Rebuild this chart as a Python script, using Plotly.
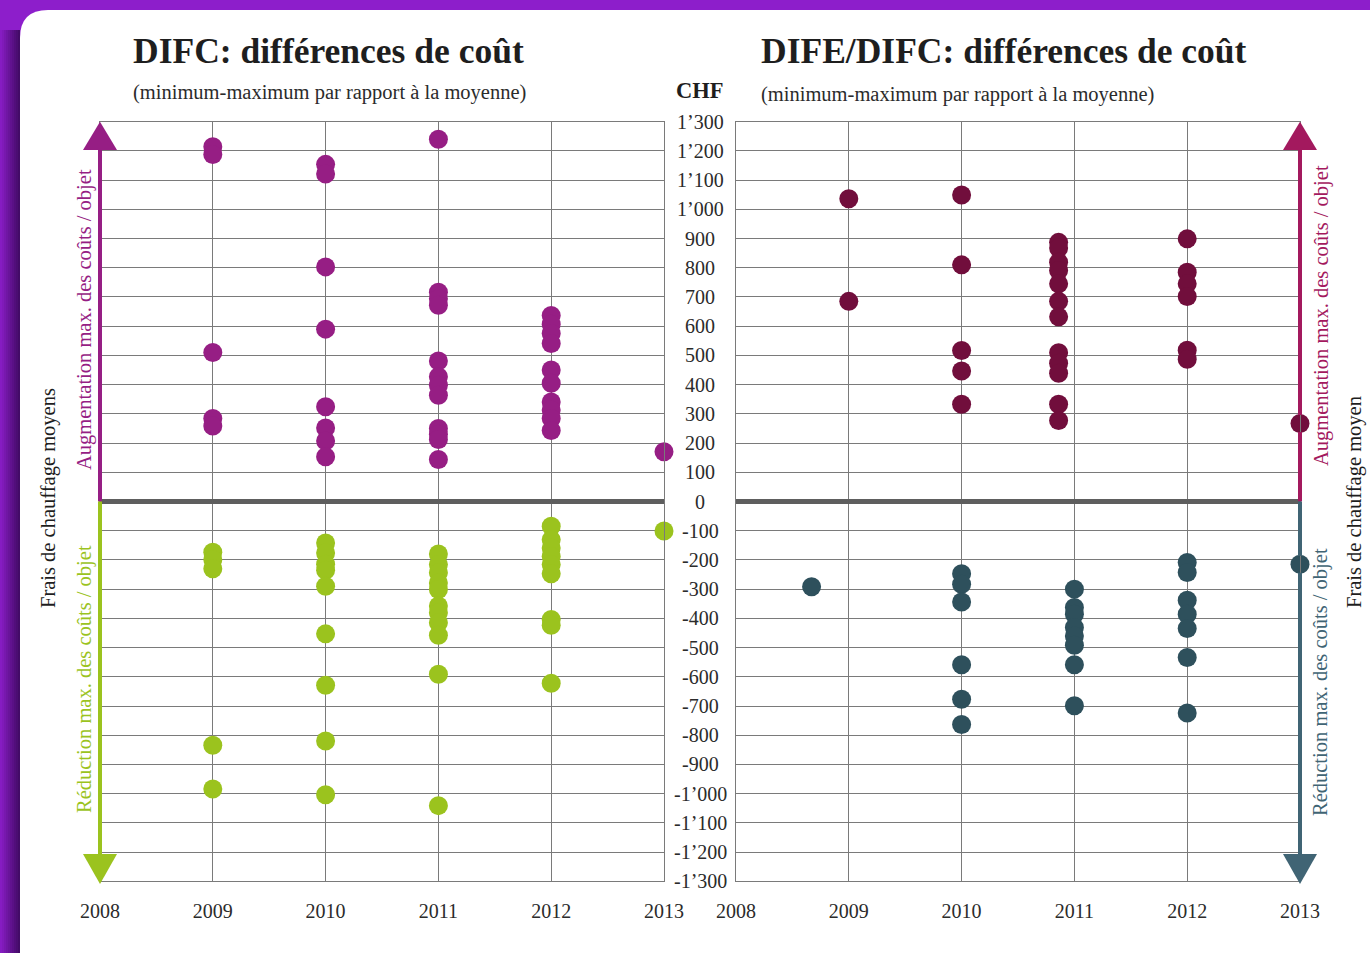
import plotly.graph_objects as go

W, H = 1370, 953

# ---------------- data ----------------
years = [2008, 2009, 2010, 2011, 2012, 2013]
year_labels = ["2008", "2009", "2010", "2011", "2012", "2013"]

chf_ticks = [1300, 1200, 1100, 1000, 900, 800, 700, 600, 500, 400, 300, 200, 100, 0,
             -100, -200, -300, -400, -500, -600, -700, -800, -900, -1000, -1100, -1200, -1300]
chf_labels = ["1’300", "1’200", "1’100", "1’000", "900", "800", "700", "600", "500", "400",
              "300", "200", "100", "0", "-100", "-200", "-300", "-400", "-500", "-600", "-700",
              "-800", "-900", "-1’000", "-1’100", "-1’200", "-1’300"]

# DIFC – increases (purple)
difc_up_x = [2009, 2010, 2011, 2012, 2013]
difc_up = [[1214, 1188, 510, 284, 258],
           [1154, 1121, 803, 590, 324, 252, 207, 153],
           [1240, 716, 694, 672, 481, 427, 398, 364, 250, 230, 212, 144],
           [637, 607, 575, 541, 450, 405, 341, 313, 284, 243],
           [170]]
# DIFC – reductions (green)
difc_down_x = [2009, 2010, 2011, 2012, 2013]
difc_down = [[-174, -199, -230, -834, -984],
             [-142, -176, -215, -235, -290, -453, -629, -820, -1004],
             [-180, -216, -244, -279, -301, -358, -381, -415, -458, -591, -1041],
             [-85, -131, -159, -188, -216, -247, -404, -424, -622],
             [-101]]
# DIFE/DIFC – increases (maroon)
dife_up_x = [2009, 2010, 2010.86, 2012, 2013]
dife_up = [[1036, 685],
           [1049, 810, 517, 447, 333],
           [887, 868, 819, 791, 745, 685, 632, 509, 473, 439, 333, 277],
           [899, 785, 745, 702, 518, 487],
           [267]]
# DIFE/DIFC – reductions (teal)
dife_down_x = [2008.67, 2010, 2011, 2012, 2013]
dife_down = [[-292],
             [-247, -283, -344, -559, -677, -763],
             [-300, -363, -386, -431, -460, -492, -559, -699],
             [-209, -243, -338, -386, -435, -534, -724],
             [-215]]

# ---------------- styles ----------------
FONT = "Liberation Serif"
PURPLE = "#961E84"
GREEN = "#9BC31E"
MAROON = "#710E3C"
TEAL = "#2E505C"
MAROON_ARROW = "#A3195E"
TEAL_ARROW = "#406474"
GRID = "#7a7a7a"
TXT = "#2b2b2b"

Y_TOP_PX, Y_BOT_PX = 121.7, 881.3


def px(x):
    return x / W


def py(y):
    return 1 - y / H


def flat(xs, groups):
    X, Y = [], []
    for x, g in zip(xs, groups):
        for v in g:
            X.append(x)
            Y.append(v)
    return X, Y


fig = go.Figure()

for xs, groups, col, ax in [
    (difc_up_x, difc_up, PURPLE, ("x", "y")),
    (difc_down_x, difc_down, GREEN, ("x", "y")),
    (dife_up_x, dife_up, MAROON, ("x2", "y2")),
    (dife_down_x, dife_down, TEAL, ("x2", "y2")),
]:
    X, Y = flat(xs, groups)
    fig.add_trace(go.Scatter(x=X, y=Y, mode="markers", xaxis=ax[0], yaxis=ax[1],
                             marker=dict(size=19, color=col, line=dict(width=0)),
                             cliponaxis=False, hoverinfo="skip"))

ydom = [py(Y_BOT_PX), py(Y_TOP_PX)]
axis_common = dict(range=[2008, 2013], tickvals=years, ticktext=year_labels,
                   showgrid=True, gridcolor=GRID, gridwidth=1, zeroline=False,
                   showline=True, mirror=True, linecolor=GRID, linewidth=1,
                   ticks="", ticklabelstandoff=12, automargin=False,
                   tickfont=dict(family=FONT, size=20, color=TXT), fixedrange=True)
yaxis_common = dict(range=[-1300, 1300], tickvals=chf_ticks, showticklabels=False,
                    showgrid=True, gridcolor=GRID, gridwidth=1, zeroline=True,
                    zerolinecolor="#5e5e5e", zerolinewidth=4.5,
                    showline=True, mirror=True, linecolor=GRID, linewidth=1,
                    ticks="", domain=ydom, fixedrange=True, automargin=False)

fig.update_layout(
    width=W, height=H,
    margin=dict(l=0, r=0, t=0, b=0, pad=0, autoexpand=False),
    paper_bgcolor="#8D1ECB",
    plot_bgcolor="rgba(0,0,0,0)",
    showlegend=False,
    xaxis=dict(domain=[px(100), px(664)], anchor="y", **axis_common),
    yaxis=dict(anchor="x", **yaxis_common),
    xaxis2=dict(domain=[px(736), px(1300)], anchor="y2", **axis_common),
    yaxis2=dict(anchor="x2", **yaxis_common),
)

shapes = []
# left shadow strip
for i in range(10):
    shapes.append(dict(type="rect", xref="paper", yref="paper", layer="below",
                       x0=px(2 * i), x1=px(2 * i + 2), y0=0, y1=py(30),
                       fillcolor=f"rgba(25,0,45,{0.05 + 0.065 * i:.3f})", line=dict(width=0)))
# white rounded panel
r = 28
path = (f"M {px(20)},0 L {px(20)},{py(10 + r)} "
        f"Q {px(20)},{py(10)} {px(20 + r)},{py(10)} "
        f"L 1,{py(10)} L 1,0 Z")
shapes.append(dict(type="path", path=path, xref="paper", yref="paper", layer="below",
                   fillcolor="white", line=dict(width=0)))


# arrows (in subplot domain coordinates)
def ydomfrac(pix):
    return (Y_BOT_PX - pix) / (Y_BOT_PX - Y_TOP_PX)


def val2dom(v):
    return (v + 1300) / 2600.0


hw = 17 / 564.0
top_base = ydomfrac(150)
bot_base = ydomfrac(854)
gap = 8.5 / (Y_BOT_PX - Y_TOP_PX)


def shaft_segments(y0, y1, holes):
    lo, hi = min(y0, y1), max(y0, y1)
    cuts = sorted([(val2dom(h) - gap, val2dom(h) + gap) for h in holes if lo < val2dom(h) < hi])
    segs, cur = [], lo
    for a, b in cuts:
        segs.append((cur, a))
        cur = b
    segs.append((cur, hi))
    return segs


right_edge_up = dife_up[dife_up_x.index(2013)]
right_edge_down = dife_down[dife_down_x.index(2013)]

for xr, yr, xpos, ctop, cbot, holes_up, holes_dn in [
        ("x domain", "y domain", 0.0, PURPLE, GREEN, [], []),
        ("x2 domain", "y2 domain", 1.0, MAROON_ARROW, TEAL_ARROW, right_edge_up, right_edge_down)]:
    for a, b in shaft_segments(0.5, top_base + 0.005, holes_up):
        shapes.append(dict(type="line", xref=xr, yref=yr, layer="above",
                           x0=xpos, x1=xpos, y0=a, y1=b, line=dict(color=ctop, width=4)))
    for a, b in shaft_segments(bot_base - 0.005, 0.5, holes_dn):
        shapes.append(dict(type="line", xref=xr, yref=yr, layer="above",
                           x0=xpos, x1=xpos, y0=a, y1=b, line=dict(color=cbot, width=4)))
    shapes.append(dict(type="path", xref=xr, yref=yr, layer="above",
                       path=f"M {xpos - hw},{top_base} L {xpos + hw},{top_base} L {xpos},1 Z",
                       fillcolor=ctop, line=dict(width=0)))
    shapes.append(dict(type="path", xref=xr, yref=yr, layer="above",
                       path=f"M {xpos - hw},{bot_base} L {xpos + hw},{bot_base} L {xpos},{ydomfrac(884)} Z",
                       fillcolor=cbot, line=dict(width=0)))

fig.update_layout(shapes=shapes)

ann = []
# y tick labels centred between the panels
for v, t in zip(chf_ticks, chf_labels):
    ann.append(dict(x=px(700), xref="paper", y=v, yref="y", text=t, showarrow=False,
                    xanchor="center", yanchor="middle",
                    font=dict(family=FONT, size=20, color=TXT)))

ann += [
    dict(x=px(131), y=py(51), text="<b>DIFC: différences de coût</b>", xanchor="left",
         font=dict(family=FONT, size=35.5, color="#1e1e1e")),
    dict(x=px(759), y=py(51), text="<b>DIFE/DIFC: différences de coût</b>", xanchor="left",
         font=dict(family=FONT, size=35.5, color="#1e1e1e")),
    dict(x=px(131), y=py(92), text="(minimum-maximum par rapport à la moyenne)", xanchor="left",
         font=dict(family=FONT, size=20.5, color=TXT)),
    dict(x=px(759), y=py(95), text="(minimum-maximum par rapport à la moyenne)", xanchor="left",
         font=dict(family=FONT, size=20.5, color=TXT)),
    dict(x=px(700), y=py(90), text="<b>CHF</b>", xanchor="center",
         font=dict(family=FONT, size=22.5, color="#1e1e1e")),
    dict(x=px(84), y=py(320), text="Augmentation max. des coûts / objet", textangle=-90,
         font=dict(family=FONT, size=20.5, color=PURPLE)),
    dict(x=px(84), y=py(679), text="Réduction max. des coûts / objet", textangle=-90,
         font=dict(family=FONT, size=20.5, color=GREEN)),
    dict(x=px(48), y=py(498), text="Frais de chauffage moyens", textangle=-90,
         font=dict(family=FONT, size=20.5, color="#1e1e1e")),
    dict(x=px(1321), y=py(316), text="Augmentation max. des coûts / objet", textangle=-90,
         font=dict(family=FONT, size=20.5, color=MAROON_ARROW)),
    dict(x=px(1320), y=py(682), text="Réduction max. des coûts / objet", textangle=-90,
         font=dict(family=FONT, size=20.5, color=TEAL_ARROW)),
    dict(x=px(1355), y=py(502), text="Frais de chauffage moyen", textangle=-90,
         font=dict(family=FONT, size=20.5, color="#1e1e1e")),
]
for a in ann:
    a.setdefault("xref", "paper")
    a.setdefault("yref", "paper")
    a.setdefault("showarrow", False)
    a.setdefault("yanchor", "middle")
    a.setdefault("xanchor", "center")
fig.update_layout(annotations=ann)

fig.write_html("out.html", config={"displayModeBar": False},
               post_script="document.body.style.margin='0px';")
